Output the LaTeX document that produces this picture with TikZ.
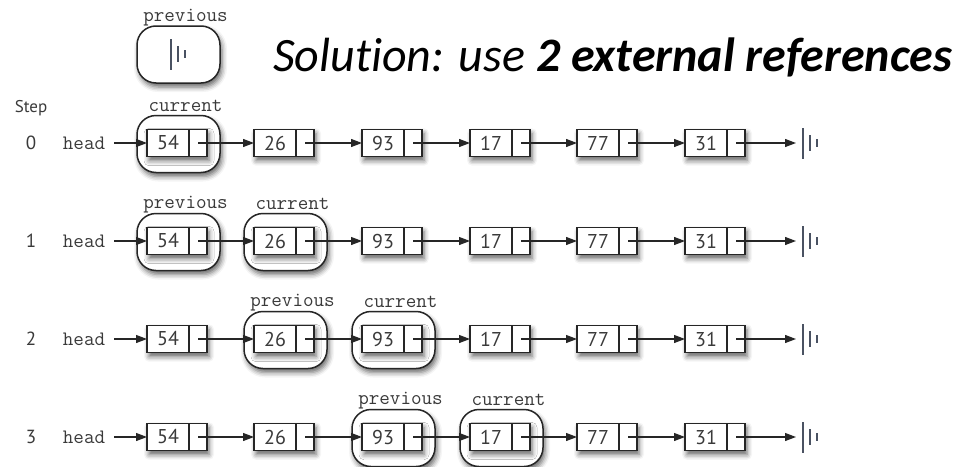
\documentclass[tikz,border=0pt]{standalone}
\usepackage{fontspec}
\setmainfont{PT Sans}
\newfontfamily\titlefont[Ligatures=NoCommon]{Carlito}
\usetikzlibrary{arrows.meta,shadows.blur,calc}
\definecolor{ink}{HTML}{262626}
\definecolor{nullc}{HTML}{4A5262}
\definecolor{txt}{HTML}{3A3A3A}
\begin{document}
\begin{tikzpicture}[x=1pt,y=-1pt,
  shad/.style={blur shadow={shadow xshift=2pt, shadow yshift=-4pt, shadow blur radius=5pt, shadow opacity=60}},
  cell/.style={draw=ink, line width=1.4pt, fill=white, inner xsep=0pt, inner ysep=6.5pt, outer sep=0pt,
    font=\fontsize{20}{22}\selectfont, text=txt, shad,
    path picture={\draw[ink, line width=1.4pt] ([xshift=42pt]path picture bounding box.north west) -- ([xshift=42pt]path picture bounding box.south west);}},
  pbox/.style={draw=ink, line width=1.5pt, fill=white, rounded corners=19pt, minimum width=83pt, minimum height=57pt, inner sep=0pt, shad},
  code/.style={font=\ttfamily\fontsize{20.5}{22}\selectfont, text=txt, inner sep=0pt},
  lbl/.style={code, anchor=base},
  stepnum/.style={font=\fontsize{19}{21}\selectfont, text=txt, inner sep=0pt},
  arr/.style={draw=ink, line width=1.2pt, -{Triangle[length=11pt,width=8pt]}},
  nullsym/.pic={
    \fill[nullc] (-1.1,-15.5) rectangle (1.1,15.5);
    \fill[nullc] (6.2,-8) rectangle (7.9,8);
    \fill[nullc] (13.2,-4.5) rectangle (14.9,4);
  }
]
\useasboundingbox (0,0) rectangle (953,466);

% title
\node[anchor=base west, inner sep=0pt, font=\titlefont\itshape\fontsize{48}{54}\selectfont] (title) at (273,71) {Solution: use \textbf{2 external references}};

% top "previous" pointer (null)
\node[pbox] (prevtop) at (178.5,54.5) {};
\node[lbl] (prevtoplbl) at ($(prevtop.north)+(7,-4)$) {previous};
\pic at (171,54) {nullsym};

\node[font=\fontsize{17}{19}\selectfont, text=txt, inner sep=0pt] (steplbl) at (31,108) {Step};

% pointer boxes (drawn behind the cells)
\node[pbox] (cur0) at (178.5,144) {};
\node[pbox] (prev1) at (178.5,242) {};
\node[pbox] (cur1) at (285.5,242) {};
\node[pbox] (prev2) at (285.5,340) {};
\node[pbox] (cur2) at (393.5,340) {};
\node[pbox] (prev3) at (393.5,438) {};
\node[pbox] (cur3) at (501.5,438) {};

\node[lbl] (cur0lbl) at ($(cur0.north)+(7,-3)$) {current};
\node[lbl] (prev1lbl) at ($(prev1.north)+(7,-4)$) {previous};
\node[lbl] (cur1lbl) at ($(cur1.north)+(7,-3)$) {current};
\node[lbl] (prev2lbl) at ($(prev2.north)+(7,-4)$) {previous};
\node[lbl] (cur2lbl) at ($(cur2.north)+(7,-3)$) {current};
\node[lbl] (prev3lbl) at ($(prev3.north)+(7,-4)$) {previous};
\node[lbl] (cur3lbl) at ($(cur3.north)+(7,-3)$) {current};

\foreach \r/\y in {0/143,1/241,2/339,3/437} {
  \node[stepnum] (num\r) at (31,\y) {\r};
  \node[code, anchor=base] (head\r) at (84,\y+6.5) {head};
  \foreach \c/\x/\v in {0/147/54,1/254/26,2/362/93,3/470/17,4/577/77,5/685/31} {
    \node[cell, anchor=west] (v\r\c) at (\x,\y) {\makebox[42pt]{\v}\makebox[18pt]{}};
  }
  \draw[arr] ([xshift=9pt]head\r.east |- v\r0.west) -- (v\r0.west);
  \foreach \c/\n in {0/1,1/2,2/3,3/4,4/5} {
    \draw[arr] ([xshift=-9pt]v\r\c.east) -- (v\r\n.west);
  }
  \coordinate (end\r) at (796,\y);
  \draw[arr] ([xshift=-9pt]v\r5.east) -- (end\r);
  \pic at (803,\y) {nullsym};
}
\end{tikzpicture}
\end{document}
